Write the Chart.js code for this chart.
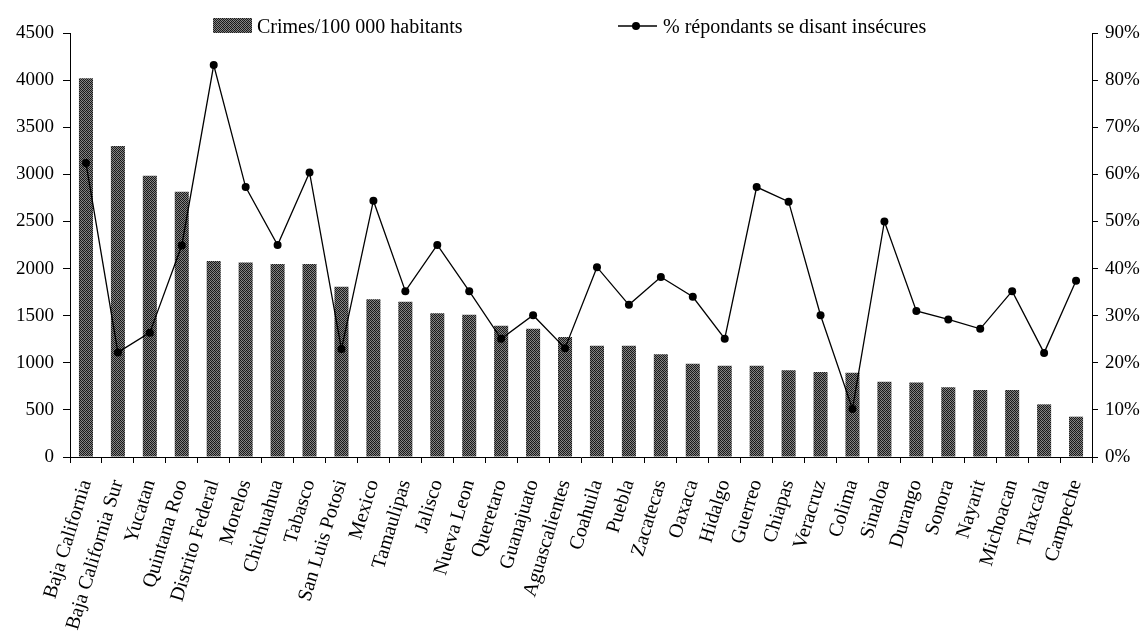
<!DOCTYPE html>
<html>
<head>
<meta charset="utf-8">
<script src="https://cdn.jsdelivr.net/npm/chart.js@4/dist/chart.umd.min.js"></script>
<style>
  html, body { margin: 0; padding: 0; background: #fff; }
  #wrap { width: 1146px; height: 633px; }
</style>
</head>
<body>
<div id="wrap"><canvas id="c" width="1146" height="633"></canvas></div>
<script>
// States of Mexico, ordered by crime rate
const states = [
  "Baja California", "Baja California Sur", "Yucatan", "Quintana Roo", "Distrito Federal",
  "Morelos", "Chichuahua", "Tabasco", "San Luis Potosi", "Mexico", "Tamaulipas", "Jalisco",
  "Nueva Leon", "Queretaro", "Guanajuato", "Aguascalientes", "Coahuila", "Puebla", "Zacatecas",
  "Oaxaca", "Hidalgo", "Guerreo", "Chiapas", "Veracruz", "Colima", "Sinaloa", "Durango",
  "Sonora", "Nayarit", "Michoacan", "Tlaxcala", "Campeche"
];

// Crimes per 100 000 inhabitants
const crimesPer100k = [
  4020, 3300, 2985, 2815, 2080, 2063, 2048, 2048, 1808, 1674, 1649, 1525,
  1511, 1394, 1362, 1274, 1182, 1182, 1090, 990, 969, 969, 920, 902,
  895, 799, 792, 739, 711, 711, 559, 428
];

// Share of respondents saying they feel unsafe (%)
const pctInsecure = [
  62.4, 22.2, 26.4, 44.9, 83.2, 57.3, 45.0, 60.4, 22.9, 54.4, 35.2, 45.0,
  35.2, 25.1, 30.1, 23.1, 40.3, 32.3, 38.2, 34.0, 25.1, 57.3, 54.2, 30.1,
  10.2, 50.0, 31.0, 29.2, 27.2, 35.2, 22.1, 37.4
];

// Axis tick steps
const leftMax = 4500, leftStep = 500;
const rightMax = 90, rightStep = 10;

const seriesNames = ["Crimes/100 000 habitants", "% répondants se disant insécures"];

const serif = "'Liberation Serif', 'Times New Roman', serif";

// Halftone-like dither used to fill the bars
function ditherPattern() {
  const cells = [
    "#141414", "#8a8a8a", "#222222", "#7c7c7c",
    "#808080", "#1a1a1a", "#909090", "#171717",
    "#262626", "#858585", "#111111", "#787878",
    "#828282", "#1e1e1e", "#7a7a7a", "#181818"
  ];
  const p = document.createElement('canvas');
  p.width = 4; p.height = 4;
  const g = p.getContext('2d');
  cells.forEach((col, i) => { g.fillStyle = col; g.fillRect(i % 4, Math.floor(i / 4), 1, 1); });
  return g.createPattern(p, 'repeat');
}

const ctx = document.getElementById('c').getContext('2d');
const barFill = ditherPattern();

// Legend drawn across the top of the chart
const topLegend = {
  id: 'topLegend',
  afterDraw(chart) {
    const c = chart.ctx;
    c.save();
    c.font = "20px " + serif;
    c.textBaseline = 'alphabetic';
    // bar item
    c.fillStyle = barFill;
    c.fillRect(213, 18, 39, 15);
    c.fillStyle = '#000';
    c.fillText(chart.data.datasets[1].label, 257, 33);
    // line item
    c.strokeStyle = '#000';
    c.lineWidth = 1.3;
    c.beginPath(); c.moveTo(618, 26); c.lineTo(657, 26); c.stroke();
    c.beginPath(); c.arc(636, 26, 4, 0, Math.PI * 2); c.fill();
    c.fillText(chart.data.datasets[0].label, 663, 33);
    c.restore();
  }
};

new Chart(ctx, {
  data: {
    labels: states,
    datasets: [
      {
        type: 'line',
        label: seriesNames[1],
        data: pctInsecure,
        yAxisID: 'y1',
        borderColor: '#000',
        borderWidth: 1.3,
        pointRadius: 4,
        pointBackgroundColor: '#000',
        pointBorderColor: '#000',
        pointBorderWidth: 0,
        tension: 0,
        order: 0
      },
      {
        type: 'bar',
        label: seriesNames[0],
        data: crimesPer100k,
        yAxisID: 'y',
        backgroundColor: barFill,
        borderWidth: 0,
        barPercentage: 0.44,
        categoryPercentage: 1.0,
        order: 1
      }
    ]
  },
  options: {
    responsive: false,
    animation: false,
    layout: { padding: { top: 33, left: 0, right: 0, bottom: 0 } },
    plugins: { legend: { display: false }, tooltip: { enabled: false } },
    scales: {
      x: {
        type: 'category',
        position: 'bottom',
        offset: true,
        grid: { display: true, drawOnChartArea: false, drawTicks: true, tickLength: 6, color: '#000', lineWidth: 1, offset: true },
        border: { display: true, color: '#000', width: 1 },
        ticks: {
          autoSkip: false, minRotation: 73, maxRotation: 73,
          color: '#000', padding: 14,
          font: { family: serif, size: 20 }
        },
        afterFit(s) { s.height = 176; }
      },
      y: {
        position: 'left',
        min: 0, max: leftMax,
        grid: { display: true, drawOnChartArea: false, drawTicks: true, tickLength: 7, color: '#000' },
        border: { display: true, color: '#000', width: 1 },
        ticks: {
          stepSize: leftStep, color: '#000', padding: 9,
          font: { family: serif, size: 19 },
          callback: v => String(v)
        },
        afterFit(s) { s.width = 70; }
      },
      y1: {
        position: 'right',
        min: 0, max: rightMax,
        grid: { display: true, drawOnChartArea: false, drawTicks: true, tickLength: 6, color: '#000' },
        border: { display: true, color: '#000', width: 1 },
        ticks: {
          stepSize: rightStep, color: '#000', padding: 7,
          font: { family: serif, size: 19 },
          callback: v => v + '%'
        },
        afterFit(s) { s.width = 54; }
      }
    }
  },
  plugins: [topLegend]
});
</script>
</body>
</html>
